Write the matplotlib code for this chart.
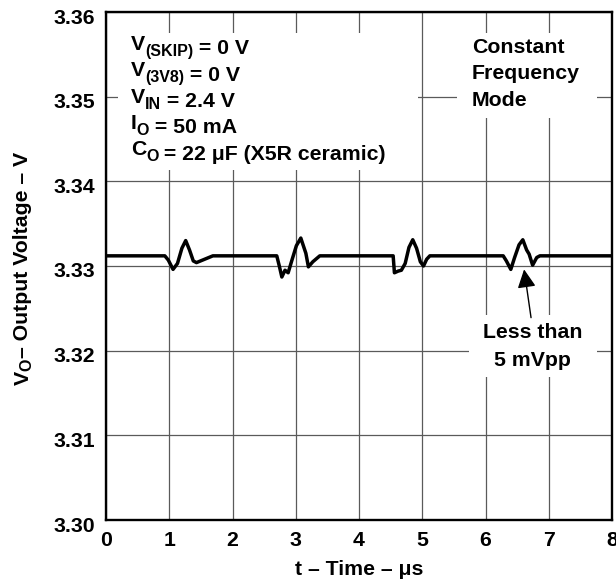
import matplotlib
matplotlib.use("Agg")
import matplotlib.pyplot as plt
from matplotlib.patches import Rectangle
from matplotlib.transforms import ScaledTranslation

plt.rcParams["font.family"] = ["Liberation Sans", "DejaVu Sans"]
plt.rcParams["font.weight"] = "bold"

# Output voltage trace (time in µs, voltage in V)
time_us = [0.00, 0.93, 0.985, 1.06, 1.13, 1.20, 1.26, 1.32, 1.38, 1.43, 1.56, 1.69,
           2.70, 2.74, 2.78, 2.83, 2.88, 2.94, 3.01, 3.08, 3.16, 3.20, 3.27, 3.38,
           4.54, 4.56, 4.62, 4.67, 4.73, 4.79, 4.85, 4.91, 4.97, 5.02, 5.07, 5.12,
           6.28, 6.33, 6.40, 6.46, 6.53, 6.59, 6.65, 6.69, 6.745, 6.81, 6.86, 8.00]
v_out = [3.3312, 3.3312, 3.3307, 3.3296, 3.3303, 3.3321, 3.3330, 3.3319, 3.3306, 3.3304, 3.3308, 3.3312,
         3.3312, 3.3300, 3.3287, 3.3295, 3.3292, 3.3307, 3.3324, 3.3333, 3.3315, 3.3299, 3.3305, 3.3312,
         3.3312, 3.3292, 3.3294, 3.3295, 3.3303, 3.3322, 3.3331, 3.3321, 3.3305, 3.3300, 3.3308, 3.3312,
         3.3312, 3.3306, 3.3296, 3.3310, 3.3325, 3.3331, 3.3319, 3.3314, 3.3301, 3.3310, 3.3312, 3.3312]

x_ticks = [0, 1, 2, 3, 4, 5, 6, 7, 8]
y_ticks = [3.30, 3.31, 3.32, 3.33, 3.34, 3.35, 3.36]
y_tick_labels = ["3.30", "3.31", "3.32", "3.33", "3.34", "3.35", "3.36"]

# operating conditions: (symbol, subscript, remainder)
conditions = [("V", "(SKIP)", " = 0 V"),
              ("V", "(3V8)", " = 0 V"),
              ("V", "IN", " = 2.4 V"),
              ("I", "O", " = 50 mA"),
              ("C", "O", " = 22 μF (X5R ceramic)")]
mode_text = "Constant\nFrequency\nMode"
ripple_text = "Less than\n5 mVpp"
ripple_tip = (6.61, 3.3296)
ripple_tail = (6.72, 3.3239)
x_label = "t – Time – μs"
y_label = ("V", "O", "– Output Voltage – V")

FS = 15.3
SUB = 11.5

W, H = 616, 581
fig = plt.figure(figsize=(W / 100, H / 100), dpi=100)
ax = fig.add_axes([106 / W, (H - 520) / H, 506 / W, 508 / H])

ax.set_xlim(0, 8)
ax.set_ylim(3.30, 3.36)
ax.set_xticks(x_ticks)
ax.set_xticklabels([str(t) for t in x_ticks], fontsize=FS, fontweight="bold")
ax.set_yticks(y_ticks)
ax.set_yticklabels(y_tick_labels, fontsize=FS, fontweight="bold")
ax.tick_params(length=0, pad=8)
ax.tick_params(axis="x", pad=8)
for lab in ax.get_yticklabels():
    lab.set_transform(lab.get_transform() + ScaledTranslation(0, -0.04, fig.dpi_scale_trans))

ax.set_axisbelow(True)
ax.grid(True, color="#5a5a5a", linewidth=0.9)
for s in ax.spines.values():
    s.set_linewidth(1.7)
    s.set_color("black")

# white backing behind the annotation blocks
for (x0, x1, y0, y1) in [(0.19, 4.93, 3.3413, 3.3575),
                         (5.55, 7.76, 3.3475, 3.3575),
                         (5.74, 7.76, 3.3169, 3.3242)]:
    ax.add_patch(Rectangle((x0, y0), x1 - x0, y1 - y0, facecolor="white",
                           edgecolor="none", zorder=1))

ax.plot(time_us, v_out, color="black", linewidth=2.5, zorder=3,
        solid_joinstyle="round", solid_capstyle="round")


def chained_text(start, coords, parts, rotated=False):
    """Draw text pieces one after another; each part is (text, size, baseline shift in pt)."""
    prev, prev_shift = None, 0.0
    for s, size, shift in parts:
        rel = shift - prev_shift
        off = (-rel, 0) if rotated else (0, rel)
        if prev is None:
            xy, xyc = start, coords
        else:
            xy, xyc = ((1, 1) if rotated else (1, 0)), prev
        kw = dict(ha="right", va="bottom", rotation=90) if rotated else dict(ha="left", va="bottom")
        prev = ax.annotate(s, xy=xy, xycoords=xyc, xytext=off, textcoords="offset points",
                           fontsize=size, fontweight="bold", annotation_clip=False,
                           zorder=4, **kw)
        prev_shift = shift
    return prev


line_bottoms = [3.35455, 3.35142, 3.34829, 3.34522, 3.34209]
for (sym, sub, rest), yb in zip(conditions, line_bottoms):
    chained_text((0.39, yb), "data",
                 [(sym, FS, 3.0), (sub, SUB, -0.3), (rest, FS, 0.0)])

ax.text(5.787, 3.35694, mode_text, fontsize=FS, fontweight="bold", ha="left", va="top",
        linespacing=1.5, zorder=4)

ax.text(6.75, 3.3205, ripple_text, fontsize=FS, fontweight="bold", ha="center", va="center",
        linespacing=1.6, zorder=4)
ax.annotate("", xy=ripple_tip, xytext=ripple_tail,
            arrowprops=dict(arrowstyle="-|>,head_length=0.8,head_width=0.4",
                            mutation_scale=14, color="black", lw=1.0,
                            shrinkA=0, shrinkB=0), zorder=4)

ax.set_xlabel(x_label, fontsize=FS, fontweight="bold", labelpad=7)
chained_text((32.4 / W, (H - 385) / H), "figure fraction",
             [(y_label[0], FS, 0.0), (y_label[1], SUB, -1.5), (y_label[2], FS, 0.0)],
             rotated=True)

fig.savefig("out.png", dpi=100)
